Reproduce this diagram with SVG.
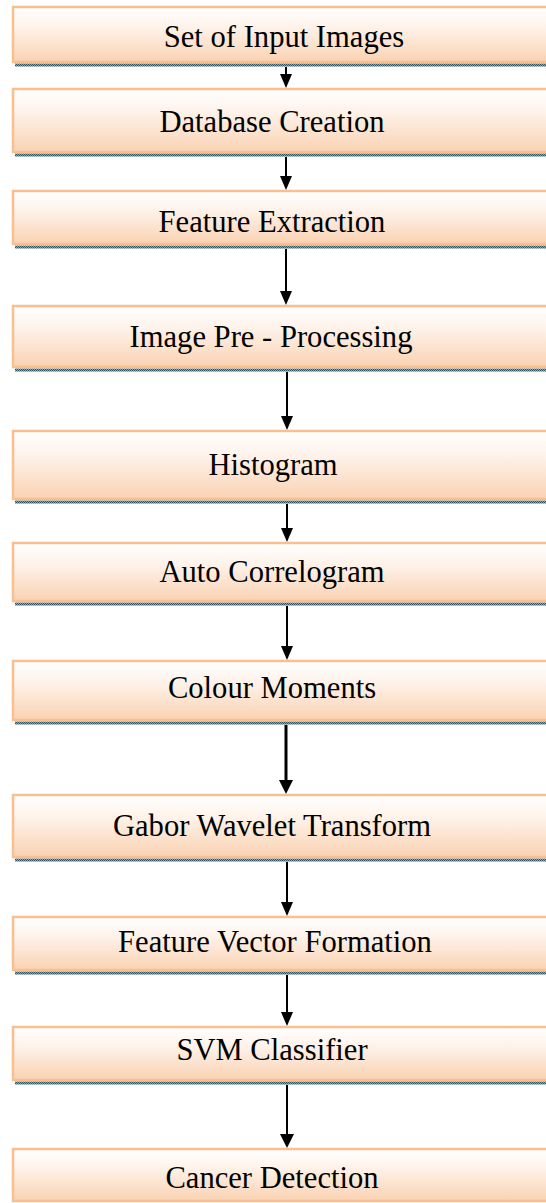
<svg xmlns="http://www.w3.org/2000/svg" width="546" height="1203" viewBox="0 0 546 1203">
<style>
.box{fill:url(#peach);stroke:#F9BF8F;stroke-width:2.5}
.sh{fill:url(#dots)}
.lbl{font-size:30.6px;fill:#000;text-anchor:middle}
</style>
<defs>
<linearGradient id="peach" x1="0" y1="0" x2="0" y2="1">
<stop offset="0" stop-color="#FFFFFF"/>
<stop offset="0.35" stop-color="#FEF3EB"/>
<stop offset="1" stop-color="#FAD2B2"/>
</linearGradient>
<pattern id="dots" width="2" height="2" patternUnits="userSpaceOnUse">
<rect width="2" height="2" fill="#86A8B2"/>
<rect width="1" height="1" fill="#2E5564"/>
<rect x="1" y="1" width="1" height="1" fill="#2E5564"/>
</pattern>
</defs>
<g id="connectors">
<line x1="286" y1="67" x2="286" y2="74" stroke="#000" stroke-width="2"/>
<polygon points="280,74 292,74 286,88" fill="#000"/>
<line x1="286" y1="157" x2="286" y2="176" stroke="#000" stroke-width="2"/>
<polygon points="280,176 292,176 286,190" fill="#000"/>
<line x1="286" y1="249" x2="286" y2="291" stroke="#000" stroke-width="2"/>
<polygon points="280,291 292,291 286,305" fill="#000"/>
<line x1="287" y1="372" x2="287" y2="416" stroke="#000" stroke-width="2"/>
<polygon points="281,416 293,416 287,430" fill="#000"/>
<line x1="287" y1="504" x2="287" y2="528" stroke="#000" stroke-width="2"/>
<polygon points="281,528 293,528 287,542" fill="#000"/>
<line x1="287" y1="606" x2="287" y2="646" stroke="#000" stroke-width="2"/>
<polygon points="281,646 293,646 287,660" fill="#000"/>
<line x1="286" y1="725" x2="286" y2="780" stroke="#000" stroke-width="3"/>
<polygon points="279,780 293,780 286,794" fill="#000"/>
<line x1="287" y1="862" x2="287" y2="902" stroke="#000" stroke-width="2"/>
<polygon points="281,902 293,902 287,916" fill="#000"/>
<line x1="287" y1="975" x2="287" y2="1012" stroke="#000" stroke-width="2"/>
<polygon points="281,1012 293,1012 287,1026" fill="#000"/>
<line x1="287" y1="1085" x2="287" y2="1134" stroke="#000" stroke-width="2"/>
<polygon points="280,1134 294,1134 287,1148" fill="#000"/>
</g>
<g font-family="'Liberation Serif', 'DejaVu Serif', serif">
<g id="n1"><rect class="sh" x="15" y="63.5" width="540" height="3"/><rect class="box" x="13" y="7" width="545" height="55"/><text class="lbl" x="284" y="47" font-size="31.5">Set of Input Images</text></g>
<g id="n2"><rect class="sh" x="15" y="153.5" width="540" height="3"/><rect class="box" x="13" y="89" width="545" height="63"/><text class="lbl" x="272" y="132">Database Creation</text></g>
<g id="n3"><rect class="sh" x="15" y="245.5" width="540" height="3"/><rect class="box" x="13" y="191" width="545" height="53"/><text class="lbl" x="272" y="232">Feature Extraction</text></g>
<g id="n4"><rect class="sh" x="15" y="368.5" width="540" height="3"/><rect class="box" x="13" y="306" width="545" height="61"/><text class="lbl" x="271" y="347">Image Pre - Processing</text></g>
<g id="n5"><rect class="sh" x="15" y="500.5" width="540" height="3"/><rect class="box" x="13" y="431" width="545" height="68"/><text class="lbl" x="273" y="475">Histogram</text></g>
<g id="n6"><rect class="sh" x="15" y="602.5" width="540" height="3"/><rect class="box" x="13" y="543" width="545" height="58"/><text class="lbl" x="272" y="582">Auto Correlogram</text></g>
<g id="n7"><rect class="sh" x="15" y="721.5" width="540" height="3"/><rect class="box" x="13" y="661" width="545" height="59"/><text class="lbl" x="272" y="698">Colour Moments</text></g>
<g id="n8"><rect class="sh" x="15" y="858.5" width="540" height="3"/><rect class="box" x="13" y="795" width="545" height="62"/><text class="lbl" x="272" y="836">Gabor Wavelet Transform</text></g>
<g id="n9"><rect class="sh" x="15" y="971.5" width="540" height="3"/><rect class="box" x="13" y="917" width="545" height="53"/><text class="lbl" x="275" y="952">Feature Vector Formation</text></g>
<g id="n10"><rect class="sh" x="15" y="1081.5" width="540" height="3"/><rect class="box" x="13" y="1027" width="545" height="53"/><text class="lbl" x="272" y="1060">SVM Classifier</text></g>
<g id="n11"><rect class="box" x="13" y="1149" width="545" height="52"/><text class="lbl" x="272" y="1188">Cancer Detection</text></g>
</g>
</svg>
